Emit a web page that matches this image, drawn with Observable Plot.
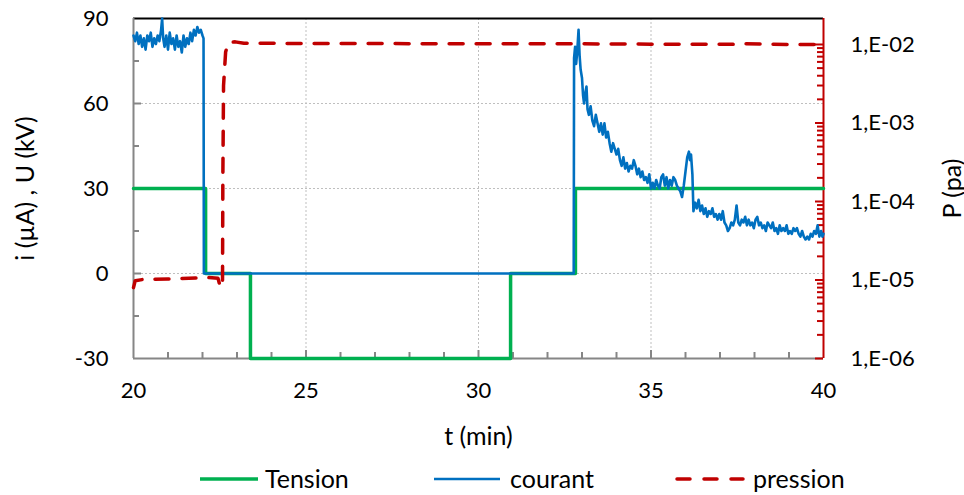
<!DOCTYPE html>
<html><head><meta charset="utf-8">
<script src="https://cdn.jsdelivr.net/npm/d3@7"></script>
<script src="https://cdn.jsdelivr.net/npm/@observablehq/plot@0.6"></script>
<style>
body{margin:0;background:#fff;font-family:Lato,"Open Sans",sans-serif;}
#wrap{position:relative;width:964px;height:495px;overflow:hidden;}
#legend{position:absolute;left:0;top:455px;width:964px;height:40px;}
.item{position:absolute;top:0;height:40px;}
.item svg{position:absolute;top:0;}
.item span{position:absolute;top:9px;font-size:25px;line-height:28px;color:#000;white-space:nowrap;}
g[aria-label$="axis label"] text{font-size:25px;}
</style></head><body>
<div id="wrap"><div id="chart"></div><div id="legend"></div></div>
<script>
// ---------- data ----------
const xTicks = [20, 25, 30, 35, 40];
const yTicks = [-30, 0, 30, 60, 90];
const pressureTicks = [1e-6, 1e-5, 1e-4, 1e-3, 1e-2];
const pressureTickLabels = ["1,E-06", "1,E-05", "1,E-04", "1,E-03", "1,E-02"];

const seriesNames = ["Tension", "courant", "pression"];
const seriesColors = ["#00B050", "#0070C0", "#C00000"];

// Tension (kV), step changes
const tensionT = [20, 22.09, 23.39, 30.93, 32.81, 40];
const tensionU = [30, 0, -30, 0, 30, 30];

// courant (µA)
const courantT = [
  20.00,20.05,20.10,20.15,20.20,20.25,20.30,20.35,20.40,20.45,20.50,20.55,20.60,20.65,20.70,20.75,20.80,20.83,20.86,20.90,
  20.95,21.00,21.05,21.10,21.15,21.20,21.25,21.30,21.35,21.40,21.45,21.50,21.55,21.60,21.65,21.70,21.75,21.80,21.85,21.90,
  21.95,22.00,22.03,22.04,32.76,
  32.77,32.80,32.83,32.86,32.90,32.93,32.96,33.00,33.03,33.06,33.10,33.13,33.16,33.20,33.25,33.30,33.35,33.40,33.45,33.50,
  33.55,33.60,33.65,33.70,33.75,33.80,33.85,33.90,33.95,34.00,34.05,34.10,34.15,34.20,34.25,34.30,34.35,34.40,34.45,34.50,
  34.55,34.60,34.65,34.70,34.75,34.80,34.85,34.90,34.95,35.00,35.05,35.10,35.15,35.20,35.25,35.30,35.35,35.40,35.45,35.50,
  35.55,35.60,35.65,35.70,35.75,35.80,35.85,35.90,35.95,36.00,36.05,36.10,36.13,36.16,36.20,36.23,36.28,36.33,36.38,36.43,
  36.48,36.53,36.58,36.63,36.68,36.73,36.78,36.83,36.88,36.93,36.98,37.03,37.08,37.13,37.18,37.23,37.28,37.33,37.38,37.43,
  37.48,37.53,37.58,37.63,37.68,37.73,37.78,37.83,37.88,37.93,37.98,38.03,38.08,38.13,38.18,38.23,38.28,38.33,38.38,38.43,
  38.48,38.53,38.58,38.63,38.68,38.73,38.78,38.83,38.88,38.93,38.98,39.03,39.08,39.13,39.18,39.23,39.28,39.33,39.38,39.43,
  39.48,39.53,39.58,39.63,39.68,39.73,39.78,39.83,39.88,39.93,39.97,40.00
];
const courantI = [
  84,82,85,81,84,80,83,79,84,82,85,80,83,81,84,82,86,90,83,80,
  84,79,85,81,83,79,84,80,82,78,84,80,83,81,85,82,86,84,87,85,
  86,84,83,0,0,
  76,80,74,78,86,77,72,69,63,60,64,66,58,56,59,54,52,56,53,50,
  53,49,53,48,50,46,43,46,44,42,44,40,38,41,37,39,36,38,37,40,
  38,35,37,34,36,33,34,32,35,30,32,30,33,31,30,34,35,31,34,30,
  33,31,34,33,31,30,29,27,31,36,41,43,40,42,35,22,25,23,26,22,
  24,21,23,20,22,21,23,20,21,19,21,19,22,18,17,15,16,18,17,19,
  24,18,17,19,18,20,17,19,17,18,16,19,20,17,18,16,17,15,18,17,
  16,18,15,16,14,17,15,16,15,17,14,15,14,16,15,16,14,13,15,13,
  12,13,12,14,13,15,14,17,13,15,13,14
];

// pression (Pa)
const pressionT = [20.00,20.05,20.30,21.00,21.80,22.14,22.45,22.52,22.58,22.59,22.61,22.67,22.75,22.95,23.20,25.00,27.00,29.00,31.00,33.00,35.00,37.00,37.60,37.70,39.00,40.00];
const pressionP = [8.0e-6,9.8e-6,1.02e-5,1.03e-5,1.06e-5,1.08e-5,1.05e-5,8.0e-6,8.5e-6,2e-4,3e-3,8e-3,1.06e-2,1.08e-2,1.04e-2,1.03e-2,1.03e-2,1.02e-2,1.02e-2,1.02e-2,1.01e-2,1.01e-2,1.0e-2,1.02e-2,1.0e-2,1.0e-2];

// ---------- layout ----------
const W = 964, H = 455, mL = 133, mR = 141, mT = 18, mB = 97;
const innerW = W - mL - mR, innerH = H - mT - mB;
const pBotLog = -6, pTopLog = -1.669; // secondary log axis range
const pToY = p => -30 + (Math.log10(p) - pBotLog) * 120 / (pTopLog - pBotLog);

const tension = tensionT.map((t, i) => ({t, v: tensionU[i]}));
const courant = courantT.map((t, i) => ({t, v: courantI[i]}));
const pression = pressionT.map((t, i) => ({t, v: pToY(pressionP[i])}));

const yMinor = [-15, 15, 45, 75];
const yMajorInner = [0, 30, 60];
const xMinor = [21,22,23,24,26,27,28,29,31,32,33,34,36,37,38,39];
const xMajorInner = [25, 30, 35];
const pMinor = [];
for (let k = -6; k <= -3; k++) for (let m = 2; m <= 9; m++) pMinor.push(m * Math.pow(10, k));
const pLabelMap = new Map(pressureTicks.map((p, i) => [pToY(p), pressureTickLabels[i]]));

const grey = "#868686", grid = "#BFBFBF";

const chart = Plot.plot({
  width: W, height: H, marginLeft: mL, marginRight: mR, marginTop: mT, marginBottom: mB,
  style: {fontFamily: "Lato, 'Open Sans', sans-serif", fontSize: "22px", color: "#000", background: "#fff", overflow: "visible"},
  x: {domain: [20, 40]},
  y: {domain: [-30, 90]},
  marks: [
    // gridlines
    Plot.ruleY(yMajorInner, {stroke: grid, strokeWidth: 1, strokeDasharray: "2,2"}),
    Plot.ruleX(xMajorInner, {stroke: grid, strokeWidth: 1, strokeDasharray: "2,2"}),
    // axis lines
    Plot.ruleY([90], {stroke: "#000", strokeWidth: 2}),
    Plot.ruleY([-30], {stroke: grey, strokeWidth: 2}),
    Plot.ruleX([20], {stroke: grey, strokeWidth: 2}),
    // inward ticks
    Plot.tickY(yMinor, {y: d => d, insetRight: innerW - 6, stroke: grey, strokeWidth: 2}),
    Plot.tickY(yMajorInner, {y: d => d, insetRight: innerW - 8, stroke: grey, strokeWidth: 2}),
    Plot.tickX(xMinor, {x: d => d, insetTop: innerH - 6, stroke: grey, strokeWidth: 2}),
    Plot.tickX(xMajorInner, {x: d => d, insetTop: innerH - 8, stroke: grey, strokeWidth: 2}),
    Plot.ruleX([40], {stroke: "#C00000", strokeWidth: 2}),
    Plot.tickY(pMinor.map(pToY), {y: d => d, insetLeft: innerW - 6, stroke: "#C00000", strokeWidth: 2}),
    Plot.tickY(pressureTicks.map(pToY), {y: d => d, insetLeft: innerW - 8, stroke: "#C00000", strokeWidth: 2}),
    // axes labels
    Plot.axisX({ticks: xTicks, tickSize: 0, tickPadding: 24, tickFormat: d => String(d),
      label: "t (min)", labelAnchor: "center", labelOffset: 86, labelArrow: "none"}),
    Plot.axisY({ticks: yTicks, tickSize: 0, tickPadding: 25, tickFormat: d => String(d),
      label: "i (µA) , U (kV)", labelAnchor: "center", labelOffset: 117, labelArrow: "none"}),
    Plot.axisY({anchor: "right", ticks: pressureTicks.map(pToY), tickSize: 0, tickPadding: 27,
      tickFormat: d => pLabelMap.get(d), label: "P (pa)", labelAnchor: "center", labelOffset: 137, labelArrow: "none"}),
    // series
    Plot.line(tension, {x: "t", y: "v", curve: "step-after", stroke: seriesColors[0], strokeWidth: 3.5}),
    Plot.line(courant, {x: "t", y: "v", stroke: seriesColors[1], strokeWidth: 2.6, strokeLinejoin: "round"}),
    Plot.line(pression, {x: "t", y: "v", stroke: seriesColors[2], strokeWidth: 3.5, strokeDasharray: "14,13", strokeLinecap: "round", strokeLinejoin: "round"})
  ]
});
document.getElementById("chart").appendChild(chart);

// ---------- legend ----------
const legendPos = [{line: 200, lw: 58, text: 265}, {line: 434, lw: 66, text: 510}, {line: 675, lw: 70, text: 753}];
const legendStyle = [{w: 3.5, dash: null}, {w: 2.5, dash: null}, {w: 3.5, dash: "13,14"}];
const legend = document.getElementById("legend");
seriesNames.forEach((name, i) => {
  const p = legendPos[i], s = legendStyle[i];
  const item = document.createElement("div");
  item.className = "item";
  item.style.left = p.line + "px";
  const svgNS = "http://www.w3.org/2000/svg";
  const svg = document.createElementNS(svgNS, "svg");
  svg.setAttribute("width", p.lw + 4);
  svg.setAttribute("height", 40);
  const ln = document.createElementNS(svgNS, "line");
  ln.setAttribute("x1", s.dash ? 2 : 0); ln.setAttribute("x2", s.dash ? p.lw - 2 : p.lw);
  ln.setAttribute("y1", 24); ln.setAttribute("y2", 24);
  ln.setAttribute("stroke", seriesColors[i]); ln.setAttribute("stroke-width", s.w);
  if (s.dash) { ln.setAttribute("stroke-dasharray", s.dash); ln.setAttribute("stroke-linecap", "round"); }
  svg.appendChild(ln);
  item.appendChild(svg);
  const sp = document.createElement("span");
  sp.textContent = name;
  sp.style.left = (p.text - p.line) + "px";
  item.appendChild(sp);
  legend.appendChild(item);
});
</script>
</body></html>
